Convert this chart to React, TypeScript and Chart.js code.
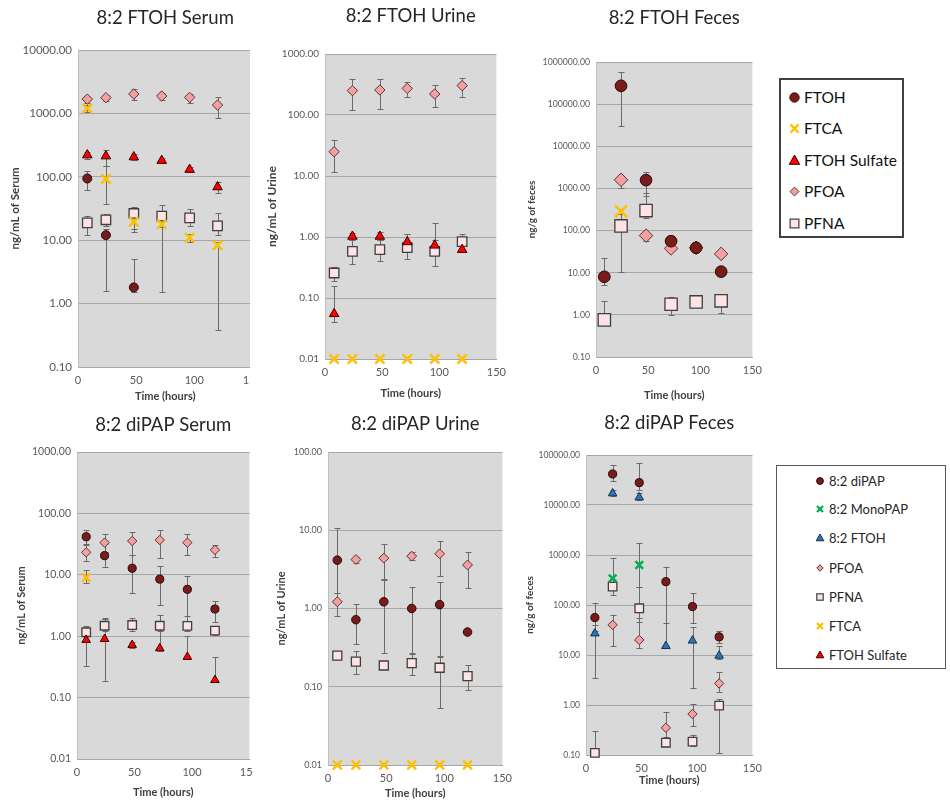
import React, { useEffect, useRef } from 'react';
import { Chart, registerables } from 'chart.js';

Chart.register(...registerables);

const FONT = 'Lato, "Liberation Sans", "DejaVu Sans", sans-serif';
Chart.defaults.font.family = FONT;
const TITLE_SIZE = 18.5;

// ---------- data ----------
const TIMES = [8, 24, 48, 72, 96, 120];
const X_TICKS = [0, 50, 100, 150];

// 8:2 FTOH Serum (ng/mL)
const S1_FTOH = [94, 12, 1.8, null, null, null];
const S1_FTOH_LO = [62, 1.6, 1.5, null, null, null];
const S1_FTOH_HI = [123, 15, 5.0, null, null, null];
const S1_FTCA = [1200, 92, 19.5, 17.9, 10.9, 8.3];
const S1_FTCA_LO = [1050, 37, 13.3, 1.55, 9.5, 0.39];
const S1_FTCA_HI = [1350, 147, 24, 22, 12.5, 9.5];
const S1_SULF = [220, 212, 205, 180, 130, 69];
const S1_SULF_LO = [190, 150, 185, 165, 118, 56];
const S1_SULF_HI = [250, 265, 225, 195, 142, 82];
const S1_PFOA = [1680, 1770, 2020, 1880, 1790, 1355];
const S1_PFOA_LO = [1450, 1550, 1650, 1600, 1450, 835];
const S1_PFOA_HI = [1900, 1950, 2400, 2100, 2050, 1830];
const S1_PFNA = [18.8, 21, 26.4, 24, 22.5, 16.8];
const S1_PFNA_LO = [12, 17, 15, 16, 17, 12];
const S1_PFNA_HI = [24, 26, 34, 35.7, 31, 26.4];

// 8:2 FTOH Urine (ng/mL)
const S2_FTCA = [0.01, 0.01, 0.01, 0.01, 0.01, 0.01];
const S2_SULF = [0.055, 1.02, 1.02, 0.83, 0.73, 0.62];
const S2_SULF_LO = [0.04, 0.9, 0.9, 0.7, 0.6, 0.58];
const S2_SULF_HI = [0.155, 1.15, 1.2, 1.13, 1.7, 0.7];
const S2_PFOA = [25, 251, 257, 273, 221, 303];
const S2_PFOA_LO = [11.6, 121, 127, 200, 137, 195];
const S2_PFOA_HI = [39.4, 384, 394, 350, 310, 410];
const S2_PFNA = [0.257, 0.58, 0.62, 0.67, 0.58, 0.84];
const S2_PFNA_LO = [0.19, 0.36, 0.4, 0.44, 0.34, 0.62];
const S2_PFNA_HI = [0.32, 0.88, 0.9, 1.13, 0.9, 1.13];

// 8:2 FTOH Feces (ng/g)
const S3_FTOH = [8, 272000, 1575, 56, 39, 10.6];
const S3_FTOH_LO = [5, 30600, 660, 45, 33, 9];
const S3_FTOH_HI = [21.8, 565000, 2500, 66, 45, 12.5];
const S3_FTCA = [null, 287, null, null, null, null];
const S3_PFOA = [null, 1600, 76, 37.6, 39, 28];
const S3_PFOA_LO = [null, 1000, 58, 32, 33, 24];
const S3_PFOA_HI = [null, 2000, 95, 45, 45, 34];
const S3_PFNA = [0.76, 129, 298, 1.79, 2.03, 2.15];
const S3_PFNA_LO = [0.6, 10.6, 200, 1.0, 1.8, 1.13];
const S3_PFNA_HI = [2.15, 250, 790, 2.6, 2.3, 3.1];

// 8:2 diPAP Serum (ng/mL)
const S4_DIPAP = [41.7, 20.5, 12.8, 8.5, 5.8, 2.77];
const S4_DIPAP_LO = [32, 13.5, 5.0, 3.2, 1.6, 1.7];
const S4_DIPAP_HI = [53, 31.4, 21, 14, 9.6, 3.8];
const S4_FTCA = [9, null, null, null, null, null];
const S4_FTCA_LO = [7.3, null, null, null, null, null];
const S4_FTCA_HI = [11.9, null, null, null, null, null];
const S4_SULF = [0.87, 0.9, 0.72, 0.635, 0.46, 0.193];
const S4_SULF_LO = [0.33, 0.186, 0.65, 0.58, 0.42, 0.18];
const S4_SULF_HI = [1.0, 1.9, 0.8, 1.4, 1.0, 0.45];
const S4_PFOA = [23.2, 33.4, 35.5, 36.9, 33.4, 25.4];
const S4_PFOA_LO = [17, 23.8, 21, 18.8, 21, 19.8];
const S4_PFOA_HI = [30.6, 45.6, 49, 53.5, 45.6, 30.6];
const S4_PFNA = [1.16, 1.48, 1.52, 1.48, 1.47, 1.23];
const S4_PFNA_LO = [1.0, 1.2, 1.2, 1.2, 1.2, 1.05];
const S4_PFNA_HI = [1.47, 1.96, 2.0, 2.2, 2.1, 1.35];

// 8:2 diPAP Urine (ng/mL)
const S5_DIPAP = [4.15, 0.72, 1.22, 1.0, 1.12, 0.5];
const S5_DIPAP_LO = [1.6, 0.35, 0.27, 0.26, 0.24, null];
const S5_DIPAP_HI = [10.7, 1.15, 2.3, 1.87, 2.2, null];
const S5_PFOA = [1.22, 4.23, 4.4, 4.67, 5.0, 3.6];
const S5_PFOA_LO = [0.8, 3.8, 2.4, 4.2, 2.6, 1.85];
const S5_PFOA_HI = [1.6, 4.6, 6.6, 5.2, 7.2, 5.3];
const S5_PFNA = [0.25, 0.21, 0.187, 0.2, 0.175, 0.137];
const S5_PFNA_LO = [0.23, 0.147, 0.17, 0.14, 0.054, 0.09];
const S5_PFNA_HI = [0.27, 0.29, 0.2, 0.27, 0.245, 0.19];
const S5_FTCA = [0.01, 0.01, 0.01, 0.01, 0.01, 0.01];

// 8:2 diPAP Feces (ng/g)
const S6_DIPAP = [56, 41700, 28000, 293, 93, 23];
const S6_DIPAP_LO = [30, 30000, 20000, 15, 43, 17];
const S6_DIPAP_HI = [112, 63000, 70000, 570, 177, 29.7];
const S6_MONO = [null, 341, 631, null, null, null];
const S6_MONO_LO = [null, 250, 230, null, null, null];
const S6_MONO_HI = [null, 860, 1740, null, null, null];
const S6_FTOH = [27, 17100, 14200, 15.1, 19.4, 9.7];
const S6_FTOH_LO = [3.4, 15000, 12500, 14, 2.15, 8.5];
const S6_FTOH_HI = [40, 20000, 17000, 43, 37, 15];
const S6_PFOA = [null, 40, 20, 0.35, 0.66, 2.7];
const S6_PFOA_LO = [null, 15, 14, 0.22, 0.38, 1.8];
const S6_PFOA_HI = [null, 63, 54, 0.73, 1.05, 4.6];
const S6_PFNA = [0.11, 233, 86, 0.176, 0.185, 0.97];
const S6_PFNA_LO = [0.1, 160, 45, 0.15, 0.15, 0.11];
const S6_PFNA_HI = [0.3, 330, 233, 0.23, 0.25, 1.3];

const LEGEND_FTOH = ['FTOH', 'FTCA', 'FTOH Sulfate', 'PFOA', 'PFNA'];
const LEGEND_DIPAP = ['8:2 diPAP', '8:2 MonoPAP', '8:2 FTOH', 'PFOA', 'PFNA', 'FTCA', 'FTOH Sulfate'];

// ---------- styles ----------
const MARK: any = {
  circle: { pointStyle: 'circle', bg: '#7a1b1b', border: '#2a0808', bw: 1, r: 4.5 },
  ftca: { pointStyle: 'crossRot', bg: '#ffc000', border: '#ffc000', bw: 2.5, r: 6.5 },
  sulf: { pointStyle: 'triangle', bg: '#ff0000', border: '#3a0000', bw: 1, r: 5.5 },
  pfoa: { pointStyle: 'rectRot', bg: '#f4a0a0', border: '#5e3434', bw: 1, r: 5.2 },
  pfna: { pointStyle: 'rect', bg: '#fde3e3', border: '#3f3f3f', bw: 1.3, r: 6.7 },
  blue: { pointStyle: 'triangle', bg: '#2e75b6', border: '#17304f', bw: 1, r: 5.5 },
  mono: { pointStyle: 'crossRot', bg: '#00b050', border: '#00b050', bw: 2.5, r: 6 },
};

const PANELS: any[] = [
  {
    title: '8:2 FTOH Serum', yTitle: 'ng/mL of Serum', l: 78, t: 50, r: 253, b: 367, titleY: 18, yTitleX: 15, xTitleY: 396,
    clipRight: 250, yMin: 0.1, yMax: 10000, tick: 11.5, yTitleSize: 11.5, s: 1,
    series: [
      { kind: 'circle', v: S1_FTOH, lo: S1_FTOH_LO, hi: S1_FTOH_HI },
      { kind: 'ftca', v: S1_FTCA, lo: S1_FTCA_LO, hi: S1_FTCA_HI },
      { kind: 'sulf', v: S1_SULF, lo: S1_SULF_LO, hi: S1_SULF_HI },
      { kind: 'pfoa', v: S1_PFOA, lo: S1_PFOA_LO, hi: S1_PFOA_HI },
      { kind: 'pfna', v: S1_PFNA, lo: S1_PFNA_LO, hi: S1_PFNA_HI },
    ],
  },
  {
    title: '8:2 FTOH Urine', yTitle: 'ng/mL of Urine', l: 325, t: 54, r: 497, b: 359, titleY: 16, yTitleX: 272, xTitleY: 393,
    yMin: 0.01, yMax: 1000, tick: 10, yTitleSize: 12, s: 1,
    series: [
      { kind: 'ftca', v: S2_FTCA },
      { kind: 'sulf', v: S2_SULF, lo: S2_SULF_LO, hi: S2_SULF_HI },
      { kind: 'pfoa', v: S2_PFOA, lo: S2_PFOA_LO, hi: S2_PFOA_HI },
      { kind: 'pfna', v: S2_PFNA, lo: S2_PFNA_LO, hi: S2_PFNA_HI },
    ],
  },
  {
    title: '8:2 FTOH Feces', yTitle: 'ng/g of feces', l: 596, t: 62, r: 753, b: 357, titleY: 18, yTitleX: 532, xTitleY: 395,
    yMin: 0.1, yMax: 1000000, tick: 8.7, yTitleSize: 10, s: 1.3,
    series: [
      { kind: 'circle', v: S3_FTOH, lo: S3_FTOH_LO, hi: S3_FTOH_HI },
      { kind: 'ftca', v: S3_FTCA },
      { kind: 'pfoa', v: S3_PFOA, lo: S3_PFOA_LO, hi: S3_PFOA_HI },
      { kind: 'pfna', v: S3_PFNA, lo: S3_PFNA_LO, hi: S3_PFNA_HI },
    ],
  },
  {
    title: '8:2 diPAP Serum', yTitle: 'ng/mL of Serum', l: 77, t: 452, r: 250, b: 759, titleY: 425, yTitleX: 22, xTitleY: 792,
    clipRight: 253, yMin: 0.01, yMax: 1000, tick: 10.5, yTitleSize: 11, s: 0.9,
    series: [
      { kind: 'circle', v: S4_DIPAP, lo: S4_DIPAP_LO, hi: S4_DIPAP_HI },
      { kind: 'ftca', v: S4_FTCA, lo: S4_FTCA_LO, hi: S4_FTCA_HI },
      { kind: 'sulf', v: S4_SULF, lo: S4_SULF_LO, hi: S4_SULF_HI },
      { kind: 'pfoa', v: S4_PFOA, lo: S4_PFOA_LO, hi: S4_PFOA_HI },
      { kind: 'pfna', v: S4_PFNA, lo: S4_PFNA_LO, hi: S4_PFNA_HI },
    ],
  },
  {
    title: '8:2 diPAP Urine', yTitle: 'ng/mL of Urine', l: 328, t: 452, r: 503, b: 765, titleY: 424, yTitleX: 282, xTitleY: 793,
    yMin: 0.01, yMax: 100, tick: 9, yTitleSize: 11, s: 0.95,
    series: [
      { kind: 'circle', v: S5_DIPAP, lo: S5_DIPAP_LO, hi: S5_DIPAP_HI },
      { kind: 'pfoa', v: S5_PFOA, lo: S5_PFOA_LO, hi: S5_PFOA_HI },
      { kind: 'pfna', v: S5_PFNA, lo: S5_PFNA_LO, hi: S5_PFNA_HI },
      { kind: 'ftca', v: S5_FTCA },
    ],
  },
  {
    title: '8:2 diPAP Feces', yTitle: 'ng/g of feces', l: 586, t: 455, r: 753, b: 755, titleY: 423, yTitleX: 530, xTitleY: 780,
    yMin: 0.1, yMax: 100000, tick: 8.5, yTitleSize: 10, s: 0.9,
    series: [
      { kind: 'circle', v: S6_DIPAP, lo: S6_DIPAP_LO, hi: S6_DIPAP_HI },
      { kind: 'mono', v: S6_MONO, lo: S6_MONO_LO, hi: S6_MONO_HI },
      { kind: 'blue', v: S6_FTOH, lo: S6_FTOH_LO, hi: S6_FTOH_HI },
      { kind: 'pfoa', v: S6_PFOA, lo: S6_PFOA_LO, hi: S6_PFOA_HI },
      { kind: 'pfna', v: S6_PFNA, lo: S6_PFNA_LO, hi: S6_PFNA_HI },
    ],
  },
];

// ---------- plugins ----------
const bgPlugin = {
  id: 'plotBg',
  beforeDraw(chart: any) {
    const { ctx, chartArea: a } = chart;
    ctx.save();
    ctx.fillStyle = '#d9d9d9';
    ctx.fillRect(a.left, a.top, a.right - a.left, a.bottom - a.top);
    ctx.restore();
  },
};

const errPlugin = {
  id: 'errBars',
  beforeDatasetsDraw(chart: any) {
    const { ctx, chartArea: a } = chart;
    const xs = chart.scales.x;
    const ys = chart.scales.y;
    ctx.save();
    ctx.beginPath();
    ctx.rect(a.left, a.top - 2, a.right - a.left, a.bottom - a.top + 4);
    ctx.clip();
    ctx.strokeStyle = '#6a6a6a';
    ctx.lineWidth = 1;
    chart.data.datasets.forEach((ds: any) => {
      ds.data.forEach((p: any) => {
        const px = Math.round(xs.getPixelForValue(p.x)) + 0.5;
        const py = ys.getPixelForValue(p.y);
        [p.lo, p.hi].forEach((e: any) => {
          if (e == null) return;
          const ey = Math.round(ys.getPixelForValue(e)) + 0.5;
          ctx.beginPath();
          ctx.moveTo(px, py);
          ctx.lineTo(px, ey);
          ctx.moveTo(px - 3, ey);
          ctx.lineTo(px + 3, ey);
          ctx.stroke();
        });
      });
    });
    ctx.restore();
  },
};

function decades(min: number, max: number) {
  const out: number[] = [];
  const a = Math.round(Math.log10(min));
  const b = Math.round(Math.log10(max));
  for (let k = a; k <= b; k++) out.push(Number(Math.pow(10, k).toPrecision(6)));
  return out;
}

function Panel({ p }: { p: any }) {
  const ref = useRef<HTMLCanvasElement>(null);
  const lh = TITLE_SIZE * 1.2;
  const canvasLeft = Math.round(p.yTitleX - (p.yTitleSize * 0.6 + 4));
  const canvasTop = Math.round(p.titleY - 4 - lh / 2);
  const W = p.r + 16 - canvasLeft;
  const H = Math.round(p.xTitleY + 11 - canvasTop);
  const yW = p.l - canvasLeft;
  const xH = Math.round(p.xTitleY + 11 - p.b);
  const titlePadBottom = p.t - canvasTop - 4 - lh;
  const clipW = p.clipRight ? p.clipRight - canvasLeft : W;

  useEffect(() => {
    const datasets = p.series.map((se: any) => {
      const m = MARK[se.kind];
      const pts: any[] = [];
      TIMES.forEach((t, i) => {
        const v = se.v[i];
        if (v == null) return;
        pts.push({ x: t, y: v, lo: se.lo ? se.lo[i] : null, hi: se.hi ? se.hi[i] : null });
      });
      return {
        data: pts,
        pointStyle: m.pointStyle,
        pointRadius: m.r * p.s,
        pointHoverRadius: m.r * p.s,
        backgroundColor: m.bg,
        borderColor: m.border,
        pointBorderWidth: m.bw,
        borderWidth: m.bw,
        showLine: false,
        clip: false,
      };
    });
    const ticks = decades(p.yMin, p.yMax);
    const chart = new Chart(ref.current as HTMLCanvasElement, {
      type: 'scatter',
      data: { datasets },
      options: {
        responsive: false,
        animation: false,
        devicePixelRatio: 1,
        events: [],
        layout: { padding: { left: 0, right: 16, top: 0, bottom: 0 } },
        plugins: {
          legend: { display: false },
          tooltip: { enabled: false },
          title: {
            display: true,
            fullSize: false,
            text: p.title,
            color: '#262626',
            font: { size: TITLE_SIZE, weight: 'normal', family: FONT },
            padding: { top: 4, bottom: titlePadBottom },
          },
        },
        scales: {
          x: {
            type: 'linear',
            min: 0,
            max: 150,
            afterBuildTicks: (s: any) => { s.ticks = X_TICKS.map((v) => ({ value: v })); },
            ticks: { font: { size: 11 }, color: '#595959', padding: 7, maxRotation: 0, autoSkip: false },
            grid: { display: false, drawTicks: false },
            border: { display: true, color: '#a6a6a6' },
            title: { display: true, text: 'Time (hours)', color: '#404040', font: { size: 11, weight: 'bold' }, padding: { top: 4, bottom: 4 } },
            afterFit: (s: any) => { s.height = xH; },
          },
          y: {
            type: 'logarithmic',
            min: p.yMin,
            max: p.yMax,
            afterBuildTicks: (s: any) => { s.ticks = ticks.map((v) => ({ value: v })); },
            ticks: { font: { size: p.tick }, color: '#595959', padding: 6, autoSkip: false, callback: (v: any) => Number(v).toFixed(2) },
            grid: { color: '#a6a6a6', drawTicks: false },
            border: { display: true, color: '#bfbfbf' },
            title: { display: true, text: p.yTitle, color: '#404040', font: { size: p.yTitleSize, weight: 'bold' }, padding: { top: 4, bottom: 4 } },
            afterFit: (s: any) => { s.width = yW; },
          },
        },
      } as any,
      plugins: [bgPlugin, errPlugin],
    });
    return () => chart.destroy();
  }, []);

  return (
    <div style={{ position: 'absolute', left: canvasLeft, top: canvasTop, width: clipW, height: H, overflow: 'hidden' }}>
      <canvas ref={ref} width={W} height={H} style={{ display: 'block', width: W, height: H }} />
    </div>
  );
}

function Icon({ kind, size }: { kind: string; size: number }) {
  const m = MARK[kind];
  const c = size / 2;
  const r = size / 2 - 1;
  let shape: any = null;
  if (kind === 'circle') shape = <circle cx={c} cy={c} r={r * 0.85} fill={m.bg} stroke={m.border} strokeWidth={1} />;
  else if (kind === 'ftca' || kind === 'mono')
    shape = (
      <g stroke={m.border} strokeWidth={2.3}>
        <line x1={c - r * 0.75} y1={c - r * 0.75} x2={c + r * 0.75} y2={c + r * 0.75} />
        <line x1={c - r * 0.75} y1={c + r * 0.75} x2={c + r * 0.75} y2={c - r * 0.75} />
      </g>
    );
  else if (kind === 'sulf' || kind === 'blue')
    shape = <polygon points={`${c},${c - r} ${c + r * 0.95},${c + r * 0.7} ${c - r * 0.95},${c + r * 0.7}`} fill={m.bg} stroke={m.border} strokeWidth={1} />;
  else if (kind === 'pfoa')
    shape = <polygon points={`${c},${c - r * 0.8} ${c + r * 0.8},${c} ${c},${c + r * 0.8} ${c - r * 0.8},${c}`} fill={m.bg} stroke={m.border} strokeWidth={1} />;
  else if (kind === 'pfna')
    shape = <rect x={c - r * 0.8} y={c - r * 0.8} width={r * 1.6} height={r * 1.6} fill={m.bg} stroke={m.border} strokeWidth={1.2} />;
  return (
    <svg width={size} height={size} style={{ display: 'block' }}>
      {shape}
    </svg>
  );
}

const LEGEND1_KINDS = ['circle', 'ftca', 'sulf', 'pfoa', 'pfna'];
const LEGEND2_KINDS = ['circle', 'mono', 'blue', 'pfoa', 'pfna', 'ftca', 'sulf'];

function Legend({ left, top, width, height, labels, kinds, rows, iconX, textX, fontSize, iconSize, border, color }: any) {
  return (
    <div style={{ position: 'absolute', left, top, width, height, border, boxSizing: 'border-box', background: '#fff' }}>
      {labels.map((lab: string, i: number) => (
        <div key={lab} style={{ position: 'absolute', left: 0, top: rows[i] - top - 10, height: 20, width: '100%' }}>
          <div style={{ position: 'absolute', left: iconX - left - iconSize / 2, top: 10 - iconSize / 2 }}>
            <Icon kind={kinds[i]} size={iconSize} />
          </div>
          <div style={{ position: 'absolute', left: textX - left, top: 0, lineHeight: '20px', fontSize, fontFamily: FONT, color, whiteSpace: 'nowrap' }}>
            {lab}
          </div>
        </div>
      ))}
    </div>
  );
}

export default function App() {
  return (
    <div style={{ position: 'absolute', left: 0, top: 0, width: 950, height: 804, background: '#ffffff', overflow: 'hidden' }}>
      {PANELS.map((p) => (
        <Panel key={p.title} p={p} />
      ))}
      <Legend
        left={779} top={78} width={125} height={160}
        labels={LEGEND_FTOH} kinds={LEGEND1_KINDS}
        rows={[95, 126, 158, 189, 221]} iconX={792} textX={802}
        fontSize={15.5} iconSize={13} border="2px solid #404040" color="#111111"
      />
      <Legend
        left={776} top={465} width={170} height={204}
        labels={LEGEND_DIPAP} kinds={LEGEND2_KINDS}
        rows={[480, 508, 537, 567, 596, 625, 654]} iconX={819} textX={828}
        fontSize={13} iconSize={10} border="1.5px solid #595959" color="#262626"
      />
    </div>
  );
}
